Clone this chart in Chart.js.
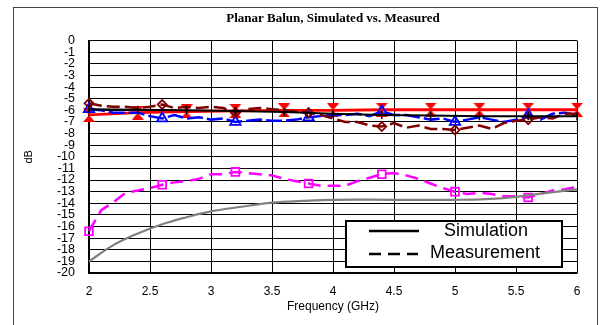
<!DOCTYPE html>
<html>
<head>
<meta charset="utf-8">
<script src="https://cdn.jsdelivr.net/npm/chart.js@4.4.0/dist/chart.umd.min.js"></script>
<style>
  html, body { margin: 0; padding: 0; background: #fff; }
</style>
</head>
<body>
<canvas id="myChart" width="608" height="325"></canvas>
<script>
// data
const freqFine = [2.0, 2.1, 2.2, 2.3, 2.4, 2.5, 2.6, 2.7, 2.8, 2.9,
                  3.0, 3.1, 3.2, 3.3, 3.4, 3.5, 3.6, 3.7, 3.8, 3.9,
                  4.0, 4.1, 4.2, 4.3, 4.4, 4.5, 4.6, 4.7, 4.8, 4.9,
                  5.0, 5.1, 5.2, 5.3, 5.4, 5.5, 5.6, 5.7, 5.8, 5.9, 6.0];
const markIdx = [0, 6, 12, 18, 24, 30, 36];

const blueMeas = [-5.9, -6.0, -6.2, -6.2, -6.2, -6.5, -6.7, -6.4, -6.7, -6.6,
                  -6.8, -6.7, -7.0, -6.9, -6.8, -6.9, -6.9, -6.8, -6.6, -6.5,
                  -6.4, -6.4, -6.3, -6.5, -6.1, -6.4, -6.4, -6.6, -6.8, -6.7,
                  -7.0, -6.8, -6.6, -6.8, -7.0, -6.8, -6.4, -6.8, -6.3, -6.2, -6.4];
const darkRedMeas = [-5.4, -5.6, -5.7, -5.7, -5.8, -5.7, -5.5, -5.8, -5.7, -5.8,
                     -5.7, -5.8, -6.2, -5.9, -5.8, -5.9, -6.0, -6.1, -6.2, -6.4,
                     -6.7, -7.0, -7.0, -7.3, -7.4, -7.1, -7.5, -7.3, -7.6, -7.6,
                     -7.7, -7.5, -7.3, -7.6, -7.1, -6.9, -6.8, -6.6, -6.7, -6.3, -6.3];
const pinkMeas = [-16.4, -14.6, -13.9, -13.1, -12.9, -12.7, -12.4, -12.2, -12.1, -11.9,
                  -11.5, -11.5, -11.3, -11.4, -11.5, -11.6, -11.9, -12.1, -12.3, -12.5,
                  -12.5, -12.5, -12.1, -11.8, -11.5, -11.4, -11.6, -11.9, -12.3, -12.7,
                  -13.0, -13.2, -13.1, -13.2, -13.4, -13.4, -13.5, -13.2, -12.9, -12.8, -12.6];

const freqSim = [2.0, 2.4, 2.8, 3.2, 3.6, 4.0, 4.4, 4.8, 5.2, 5.6, 6.0];
const redSim = [-6.4, -6.2, -6.1, -6.05, -6.0, -6.0, -5.95, -5.95, -5.95, -5.95, -5.95];
const blackSim = [-5.9, -5.95, -6.0, -6.05, -6.15, -6.3, -6.4, -6.45, -6.5, -6.5, -6.5];

const freqGray = [2.0, 2.2, 2.4, 2.6, 2.8, 3.0, 3.25, 3.5, 3.75, 4.0, 4.5, 5.0, 5.25, 5.5, 5.75, 6.0];
const graySim = [-19.0, -17.6, -16.6, -15.8, -15.2, -14.7, -14.3, -13.95, -13.8, -13.7,
                 -13.7, -13.7, -13.65, -13.45, -13.1, -12.8];

const xTicks = [2, 2.5, 3, 3.5, 4, 4.5, 5, 5.5, 6];

function pairs(xs, ys) {
  return xs.map((x, i) => ({ x: x, y: ys[i] }));
}

// red hourglass marker
function hourglass(color) {
  const c = document.createElement("canvas");
  c.width = 12;
  c.height = 14;
  const g = c.getContext("2d");
  g.fillStyle = color;
  g.beginPath();
  g.moveTo(0, 0); g.lineTo(12, 0); g.lineTo(6, 7); g.closePath(); g.fill();
  g.beginPath();
  g.moveTo(6, 7); g.lineTo(12, 14); g.lineTo(0, 14); g.closePath(); g.fill();
  return c;
}

const markRadius = (r) => (ctx) => (markIdx.includes(ctx.dataIndex) ? r : 0);

// frame + legend box
const decor = {
  id: "decor",
  beforeDraw(chart) {
    const ctx = chart.ctx;
    ctx.save();
    ctx.fillStyle = "#fff";
    ctx.fillRect(0, 0, chart.width, chart.height);
    ctx.strokeStyle = "#444";
    ctx.lineWidth = 1;
    ctx.strokeRect(13.5, 7.5, 584, 340);
    ctx.restore();
  },
  afterDatasetsDraw(chart) {
    const ctx = chart.ctx;
    const a = chart.chartArea;
    const bx = a.right - 231, by = a.bottom - 52, bw = 216, bh = 46;
    ctx.save();
    ctx.fillStyle = "#fff";
    ctx.fillRect(bx, by, bw, bh);
    ctx.strokeStyle = "#000";
    ctx.lineWidth = 2;
    ctx.strokeRect(bx, by, bw, bh);
    ctx.lineWidth = 2.5;
    ctx.beginPath();
    ctx.moveTo(bx + 23, by + 10); ctx.lineTo(bx + 73, by + 10);
    ctx.stroke();
    ctx.setLineDash([12, 7]);
    ctx.beginPath();
    ctx.moveTo(bx + 23, by + 33); ctx.lineTo(bx + 72, by + 33);
    ctx.stroke();
    ctx.setLineDash([]);
    ctx.fillStyle = "#000";
    ctx.font = "18px 'Liberation Sans', Arial, sans-serif";
    ctx.textAlign = "center";
    ctx.textBaseline = "middle";
    ctx.fillText("Simulation", bx + 140, by + 10);
    ctx.fillText("Measurement", bx + 139, by + 32);
    ctx.restore();
  }
};

const gridCol = "#000";
const sans = "'Liberation Sans', Arial, sans-serif";

const data = {
  datasets: [
    {
      label: "Sim gray",
      data: pairs(freqGray, graySim),
      borderColor: "#808080",
      borderWidth: 2.2,
      tension: 0.4,
      pointRadius: 0
    },
    {
      label: "Meas pink",
      data: pairs(freqFine, pinkMeas),
      borderColor: "#ff00ff",
      borderWidth: 2.5,
      borderDash: [13, 7],
      pointStyle: "rect",
      pointRadius: markRadius(5.5),
      pointBorderColor: "#ff00ff",
      pointBackgroundColor: "rgba(255,255,255,0)",
      pointBorderWidth: 1.8
    },
    {
      label: "Sim black",
      data: pairs(freqSim, blackSim),
      borderColor: "#000",
      borderWidth: 2,
      pointStyle: "line",
      pointRotation: 90,
      pointRadius: 4,
      pointBorderColor: "#000",
      pointBorderWidth: 1.5
    },
    {
      label: "Meas dark red",
      data: pairs(freqFine, darkRedMeas),
      borderColor: "#800000",
      borderWidth: 2.5,
      borderDash: [13, 5],
      pointStyle: "rectRot",
      pointRadius: markRadius(4.5),
      pointBorderColor: "#800000",
      pointBackgroundColor: "rgba(255,255,255,0)",
      pointBorderWidth: 1.8
    },
    {
      label: "Meas blue",
      data: pairs(freqFine, blueMeas),
      borderColor: "#0000ff",
      borderWidth: 2.5,
      borderDash: [16, 4],
      pointStyle: "triangle",
      pointRadius: markRadius(6),
      pointBorderColor: "#0000ff",
      pointBackgroundColor: "rgba(255,255,255,0)",
      pointBorderWidth: 1.8
    },
    {
      label: "Sim red",
      data: pairs(freqSim, redSim),
      borderColor: "#ff0000",
      borderWidth: 2.8,
      pointStyle: hourglass("#ff0000"),
      pointRadius: 5
    }
  ]
};

const config = {
  type: "line",
  data: data,
  options: {
    responsive: false,
    animation: false,
    events: [],
    clip: 8,
    layout: { padding: { left: 18, right: 31, top: 0, bottom: 0 } },
    plugins: {
      legend: { display: false },
      tooltip: { enabled: false },
      title: {
        display: true,
        fullSize: false,
        text: "Planar Balun, Simulated vs. Measured",
        color: "#000",
        font: { family: "'Liberation Serif', 'Times New Roman', serif", size: 13, weight: "bold" },
        padding: { top: 11, bottom: 14 }
      }
    },
    scales: {
      x: {
        type: "linear",
        min: 2,
        max: 6,
        afterBuildTicks: (s) => { s.ticks = xTicks.map((v) => ({ value: v })); },
        afterFit: (s) => { s.height = 52; },
        grid: { color: gridCol, lineWidth: 1, drawTicks: false },
        border: { color: "#000", width: 1.5 },
        ticks: {
          color: "#000",
          padding: 11,
          maxRotation: 0,
          autoSkip: false,
          callback: (v) => String(v),
          font: { family: sans, size: 12 }
        },
        title: {
          display: true,
          text: "Frequency (GHz)",
          color: "#000",
          font: { family: sans, size: 12 },
          padding: { top: 0, bottom: 11 }
        }
      },
      y: {
        min: -20,
        max: 0,
        afterFit: (s) => { s.width = 71; },
        grid: { color: gridCol, lineWidth: 1, drawTicks: false },
        border: { color: "#000", width: 1.5 },
        ticks: {
          stepSize: 1,
          autoSkip: false,
          color: "#000",
          padding: 14,
          font: { family: sans, size: 12.5 }
        },
        title: {
          display: true,
          text: "dB",
          color: "#000",
          font: { family: sans, size: 11 },
          padding: { top: 4, bottom: 0 }
        }
      }
    }
  },
  plugins: [decor]
};

var myChart = new Chart(document.getElementById("myChart"), config);
</script>
</body>
</html>
